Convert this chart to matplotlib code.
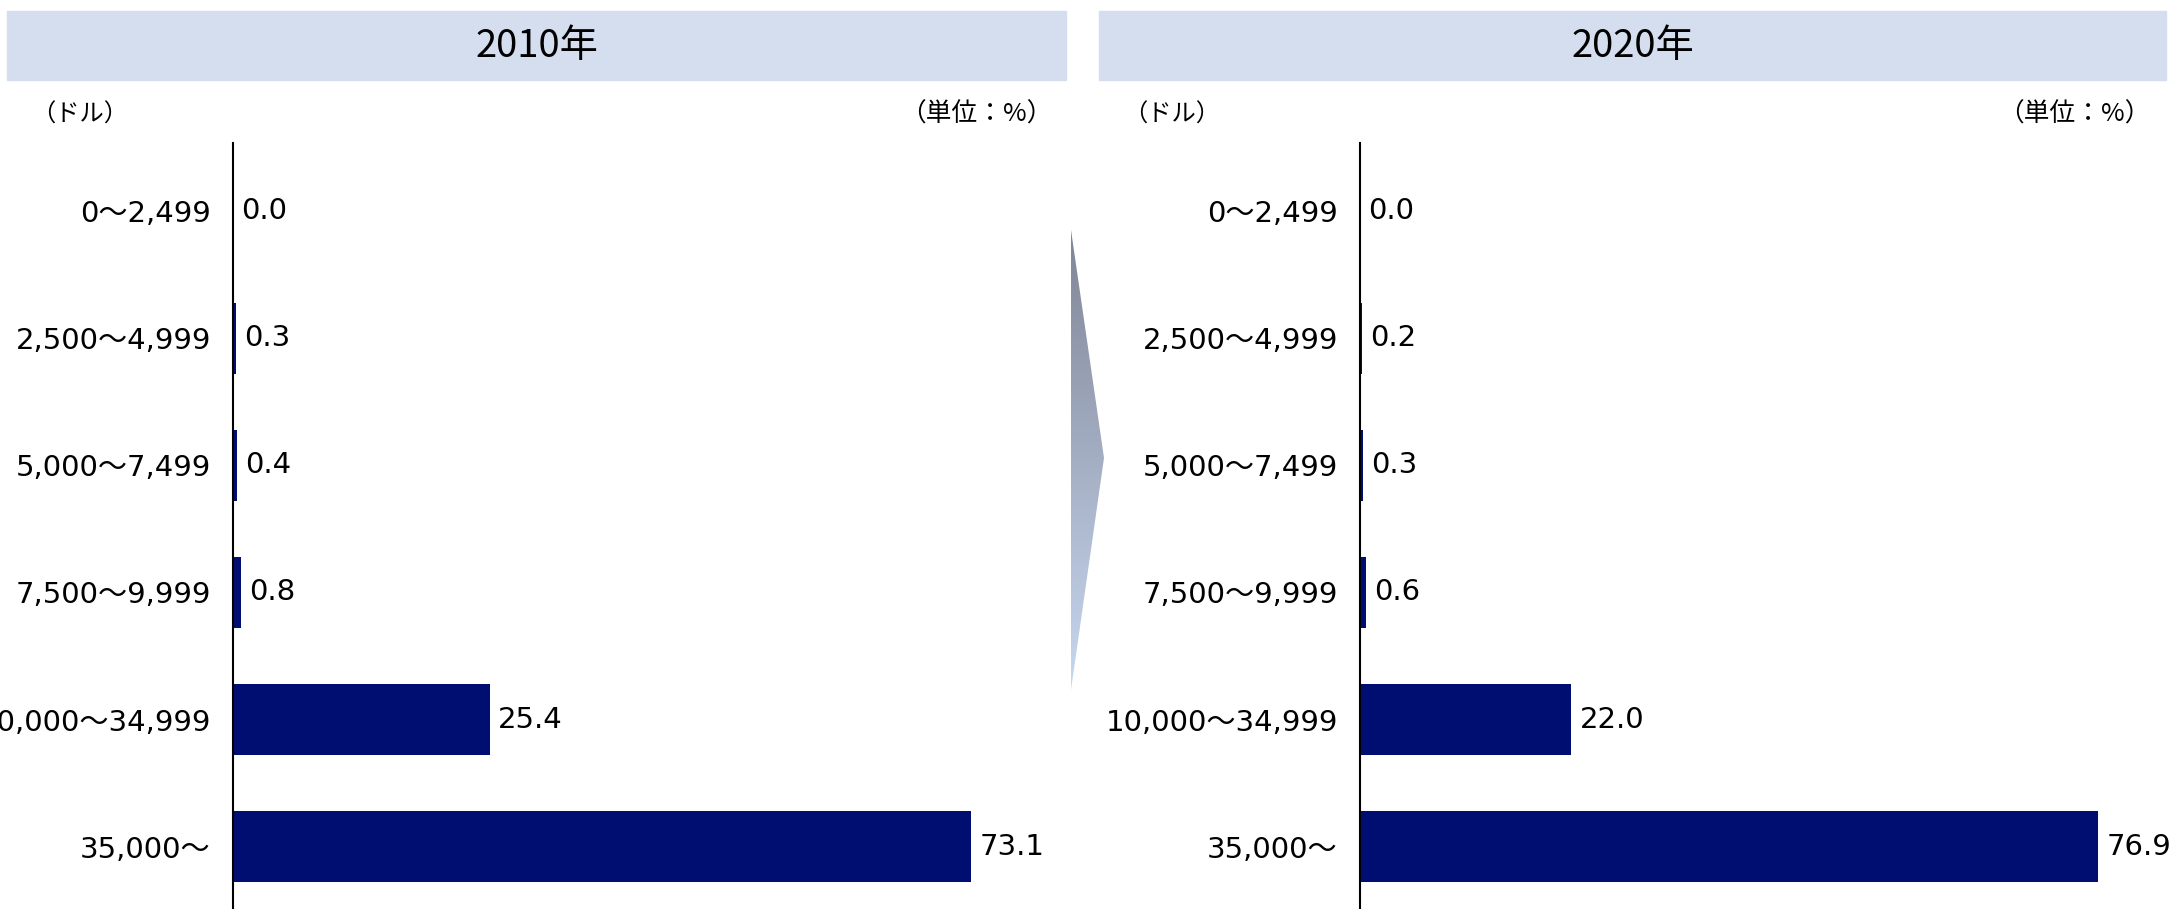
import numpy as np
import matplotlib.pyplot as plt
from matplotlib.patches import Rectangle, Polygon

plt.rcParams['font.family'] = ['DejaVu Sans', 'Noto Sans CJK JP']

# data
categories = ['0～2,499', '2,500～4,999', '5,000～7,499', '7,500～9,999', '10,000～34,999', '35,000～']
share_2010 = [0.0, 0.3, 0.4, 0.8, 25.4, 73.1]
share_2020 = [0.0, 0.2, 0.3, 0.6, 22.0, 76.9]
years = ['2010年', '2020年']

W, H = 2176, 909
bar_color = '#000E72'
header_color = '#D5DEEE'
fs = 21
cjk = ['Noto Sans CJK JP', 'DejaVu Sans']

fig = plt.figure(figsize=(W / 100, H / 100), dpi=100)

# overlay in pixel coordinates for headers, arrow and notes
ov = fig.add_axes([0, 0, 1, 1])
ov.set_xlim(0, W)
ov.set_ylim(H, 0)
ov.axis('off')

# panels: axis x, px per unit, header left/right, unit note right, values
panels = [(233, 10.1, 7, 1066, 1045, share_2010),
          (1360, 9.6, 1099, 2166, 2142, share_2020)]
y_top = 143

for i, (ax_l, ppu, h_l, h_r, note_r, vals) in enumerate(panels):
    ov.add_patch(Rectangle((h_l, 11), h_r - h_l, 69, color=header_color, zorder=0))
    ov.text((h_l + h_r) / 2, 47, years[i], ha='center', va='center', fontsize=27.5, family=cjk)
    ov.text(h_l + 24, 115, '（ドル）', ha='left', va='center', fontsize=17.5, family=cjk)
    ov.text(note_r + 8, 115, '（単位：%）', ha='right', va='center', fontsize=18.5, family=cjk)

    ax_r = h_r
    ax = fig.add_axes([ax_l / W, 0, (ax_r - ax_l) / W, (H - y_top) / H])
    ypos = np.arange(len(categories))
    ax.barh(ypos, vals, height=0.56, color=bar_color)
    ax.set_xlim(0, (ax_r - ax_l) / ppu)
    ax.set_ylim(5.49, -0.535)
    ax.set_yticks(ypos)
    ax.set_yticklabels(categories, fontsize=fs)
    ax.tick_params(axis='y', length=0, pad=16)
    ax.set_xticks([])
    for s in ['top', 'right', 'bottom']:
        ax.spines[s].set_visible(False)
    ax.spines['left'].set_linewidth(1.5)
    ax.patch.set_alpha(0)
    for y, v in zip(ypos, vals):
        ax.annotate(f'{v:.1f}', (v, y), xytext=(6, 0), textcoords='offset points',
                    ha='left', va='center', fontsize=fs)

# gradient chevron between panels
tri = Polygon([(1071, 230), (1104, 458), (1071, 690)], closed=True, facecolor='none', edgecolor='none')
ov.add_patch(tri)
grad = np.linspace(0, 1, 256).reshape(-1, 1)
top_c = np.array([128, 133, 150]) / 255
bot_c = np.array([200, 216, 240]) / 255
img = top_c + (bot_c - top_c) * grad[..., None]
im = ov.imshow(img.repeat(2, axis=1), extent=[1071, 1104, 690, 230], aspect='auto', zorder=1)
im.set_clip_path(tri)
ov.set_xlim(0, W)
ov.set_ylim(H, 0)

fig.savefig('out.png', dpi=100)
